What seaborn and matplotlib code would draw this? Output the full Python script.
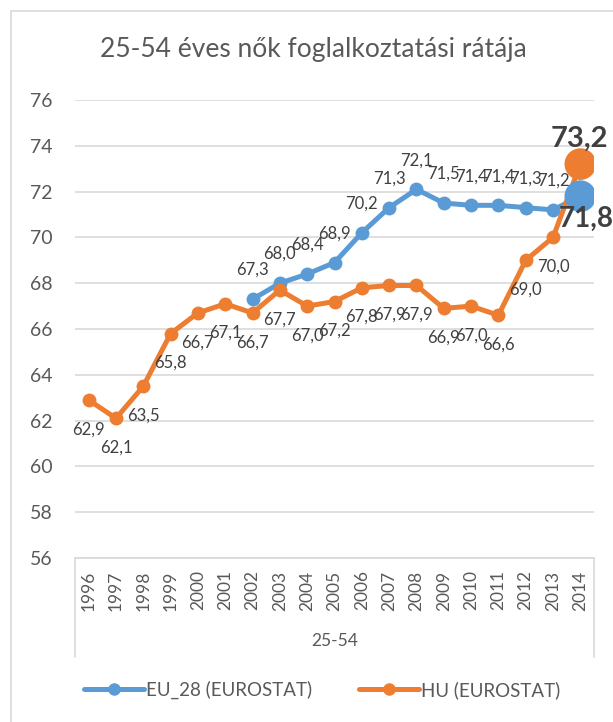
import numpy as np
import pandas as pd
import matplotlib
matplotlib.use("Agg")
import matplotlib.pyplot as plt
from matplotlib.lines import Line2D
from matplotlib.patches import Rectangle
import seaborn as sns

# data
years = list(range(1996, 2015))
hu_values = [62.9, 62.1, 63.5, 65.8, 66.7, 67.1, 66.7, 67.7, 67.0, 67.2,
             67.8, 67.9, 67.9, 66.9, 67.0, 66.6, 69.0, 70.0, 73.2]
eu_values = [np.nan] * 6 + [67.3, 68.0, 68.4, 68.9, 70.2, 71.3, 72.1, 71.5,
                            71.4, 71.4, 71.3, 71.2, 71.8]
eu_name = "EU_28 (EUROSTAT)"
hu_name = "HU (EUROSTAT)"
title = "25-54 éves nők foglalkoztatási rátája"
group_label = "25-54"

BLUE = "#5B9BD5"
ORANGE = "#ED7D31"
GRID = "#D9D9D9"
TXT = "#404040"

sns.set_theme(style="white")
plt.rcParams["font.family"] = ["Lato", "DejaVu Sans"]

df = pd.DataFrame({"year": years, "EU": eu_values, "HU": hu_values})

fig = plt.figure(figsize=(6.13, 7.22), dpi=100)
ax = fig.add_axes([75 / 613, 1 - 558 / 722, 519 / 613, 458 / 722])

# lines with markers
sns.lineplot(data=df, x="year", y="EU", color=BLUE, lw=3.6, marker="o",
             markersize=10, markeredgewidth=0, ax=ax, zorder=3)
sns.lineplot(data=df, x="year", y="HU", color=ORANGE, lw=3.6, marker="o",
             markersize=10, markeredgewidth=0, ax=ax, zorder=4)

# bigger last points
last = df.iloc[[-1]]
sns.scatterplot(data=last, x="year", y="EU", color=BLUE, s=520,
                edgecolor="none", ax=ax, zorder=5)
sns.scatterplot(data=last, x="year", y="HU", color=ORANGE, s=520,
                edgecolor="none", ax=ax, zorder=6)

# data labels
for x, y in zip(df["year"][:-1], df["EU"][:-1]):
    if np.isnan(y):
        continue
    ax.annotate(f"{y:.1f}".replace(".", ","), (x, y), xytext=(0, 21),
                textcoords="offset points", ha="center", va="center",
                fontsize=12, color=TXT, zorder=7)
for x, y in zip(df["year"][:-1], df["HU"][:-1]):
    ax.annotate(f"{y:.1f}".replace(".", ","), (x, y), xytext=(0, -21),
                textcoords="offset points", ha="center", va="center",
                fontsize=12, color=TXT, zorder=7)
ax.annotate(f"{hu_values[-1]:.1f}".replace(".", ","), (years[-1], hu_values[-1]),
            xytext=(-1, 18), textcoords="offset points", ha="center",
            va="center", fontsize=21, fontweight="bold", color=TXT,
            annotation_clip=False, zorder=8)
ax.annotate(f"{eu_values[-1]:.1f}".replace(".", ","), (years[-1], eu_values[-1]),
            xytext=(4, -16), textcoords="offset points", ha="center",
            va="center", fontsize=20, fontweight="bold", color=TXT,
            annotation_clip=False, zorder=8)

# axes styling
ax.set_ylim(56, 76)
ax.set_yticks(range(56, 77, 2))
ax.set_xlim(years[0] - 0.5, years[-1] + 0.5)
ax.set_xticks(years)
ax.set_xticklabels([str(y) for y in years], rotation=90, fontsize=12.5,
                   color="#595959", va="top")
ax.tick_params(axis="y", labelsize=14, labelcolor="#595959", length=0, pad=16)
ax.tick_params(axis="x", length=0, pad=9)
ax.grid(axis="y", color=GRID, lw=1.2)
ax.set_axisbelow(True)
for side in ["top", "right", "left"]:
    ax.spines[side].set_visible(False)
ax.spines["bottom"].set_color(GRID)
ax.spines["bottom"].set_linewidth(1.2)
ax.set_xlabel("")
ax.set_ylabel("")

# category box below the axis
box_h = (657 - 558) / 458
for xx in (0, 1):
    ax.plot([xx, xx], [0, -box_h], transform=ax.transAxes, color=GRID,
            lw=1.2, clip_on=False)
ax.text(0.5, -(641 - 558) / 458, group_label, transform=ax.transAxes,
        ha="center", va="center", fontsize=12.5, color="#595959")

fig.text(313 / 613, 1 - 50 / 722, title, ha="center", va="center",
         fontsize=19, color="#595959")

handles = [Line2D([], [], color=BLUE, lw=3.6, marker="o", markersize=8),
           Line2D([], [], color=ORANGE, lw=3.6, marker="o", markersize=8)]
fig.legend(handles, [eu_name, hu_name], loc="center",
           bbox_to_anchor=(322 / 613, 1 - 690 / 722), ncol=2, frameon=False,
           fontsize=13.5, handlelength=3.2, handletextpad=0.1,
           columnspacing=2.5, labelcolor="#595959")

# chart frame
fig.patches.append(Rectangle((11 / 613, -0.1), 1.2, 1.1 - 11 / 722,
                             transform=fig.transFigure, fill=False,
                             edgecolor=GRID, lw=1.2))

fig.savefig("out.png", dpi=100)
